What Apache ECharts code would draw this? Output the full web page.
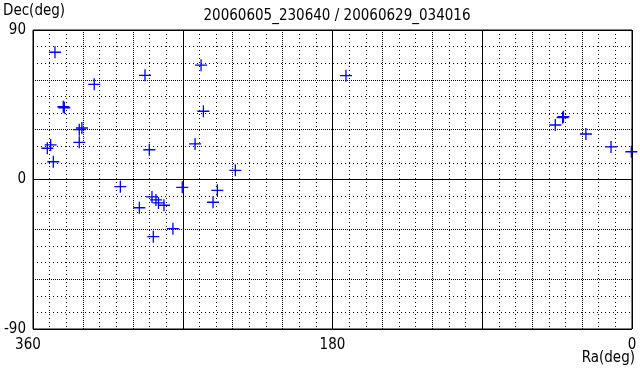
<!DOCTYPE html>
<html><head><meta charset="utf-8">
<script src="https://cdn.jsdelivr.net/npm/echarts@6/dist/echarts.min.js"></script>
<style>html,body{margin:0;padding:0;background:#fff}#c{width:640px;height:375px}</style>
</head><body><div id="c"></div>
<script>
var titleText = '20060605_230640 / 20060629_034016';
var xTickLabels = ['0', '180', '360'];
var yTickLabels = ['-90', '0', '90'];
var ra  = [346.8, 292.7, 259.0, 323.2, 341.2, 341.8, 257.6, 332.2, 330.6, 332.2, 351.4, 349.4, 347.8, 290.1, 262.6, 238.4, 171.9, 41.7, 41.2, 46.1, 27.7, 12.6, 0.4, 307.5, 270.3, 249.2, 251.8, 296.1, 288.5, 286.1, 284.6, 281.3, 275.9, 287.7];
var dec = [76.6, 62.7, 68.8, 57.3, 43.2, 43.8, 41.1, 30.0, 31.0, 22.4, 18.8, 20.8, 10.7, 17.9, 21.4, 5.5, 62.5, 37.2, 37.8, 32.8, 27.4, 19.6, 16.7, -4.3, -4.7, -6.5, -13.7, -17.0, -10.5, -12.3, -14.1, -15.5, -29.6, -34.4];

var FONT = "'DejaVu Sans Condensed',sans-serif";
var points = ra.map(function (r, i) { return [r, dec[i]]; });
var G = {left: 33, right: 8, top: 30, bottom: 46};

function xAx(interval, type, showLabel) {
  return {
    type: 'value', min: 0, max: 360, interval: interval, inverse: true, position: 'bottom',
    axisLine: {show: false}, axisTick: {show: false},
    axisLabel: {show: !!showLabel, color: '#000', fontSize: 15, fontFamily: FONT, margin: 9,
      showMinLabel: true, showMaxLabel: true,
      formatter: function (v) { var s = String(v); return xTickLabels.indexOf(s) >= 0 ? s : ''; },
      padding: [0, 0, 0, 0]},
    splitLine: {show: true, lineStyle: {color: '#000', width: 1, type: type}}
  };
}
function yAx(interval, type, showLabel) {
  return {
    type: 'value', min: -90, max: 90, interval: interval, position: 'left',
    axisLine: {show: false}, axisTick: {show: false},
    axisLabel: {show: !!showLabel, color: '#000', fontSize: 15, fontFamily: FONT, margin: 7,
      showMinLabel: true, showMaxLabel: true,
      formatter: function (v) { var s = String(v); return yTickLabels.indexOf(s) >= 0 ? s : ''; }},
    splitLine: {show: true, lineStyle: {color: '#000', width: 1, type: type}}
  };
}

var xLab = xAx(90, 'solid', true);
xLab.axisLabel.formatter = function (v) {
  var s = String(v);
  if (xTickLabels.indexOf(s) < 0) return '';
  return s === '360' ? '{l|' + s + '}' : s;
};
xLab.axisLabel.rich = {l: {fontSize: 15, fontFamily: FONT, color: '#000', padding: [0, 10, 0, 0]}};

var chart = echarts.init(document.getElementById('c'), null, {renderer: 'canvas'});
chart.setOption({
  animation: false,
  backgroundColor: '#fff',
  title: {text: titleText, left: 332, textAlign: 'center', top: 4,
    textStyle: {color: '#000', fontWeight: 'normal', fontSize: 15, fontFamily: FONT}},
  graphic: [
    {type: 'text', left: 3, top: 4, style: {text: 'Dec(deg)', fill: '#000', font: "15px " + FONT}},
    {type: 'text', right: 5, top: 351, style: {text: 'Ra(deg)', fill: '#000', font: "15px " + FONT}}
  ],
  grid: [{left: G.left, right: G.right, top: G.top, bottom: G.bottom, show: true, borderColor: '#000', borderWidth: 1, backgroundColor: 'transparent'}],
  xAxis: [xAx(10, [1, 3], false), xAx(30, [1, 1], false), xLab],
  yAxis: [yAx(10, [1, 3], false), yAx(30, [1, 1], false), yAx(90, 'solid', true)],
  series: [{
    type: 'scatter', xAxisIndex: 0, yAxisIndex: 0, data: points, clip: false,
    symbol: 'path://M0,5.35H12V6.65H0Z M5.35,0H6.65V12H5.35Z', symbolSize: [12, 12],
    itemStyle: {color: '#0000ff', opacity: 1}, emphasis: {disabled: true}
  }]
});
</script></body></html>
